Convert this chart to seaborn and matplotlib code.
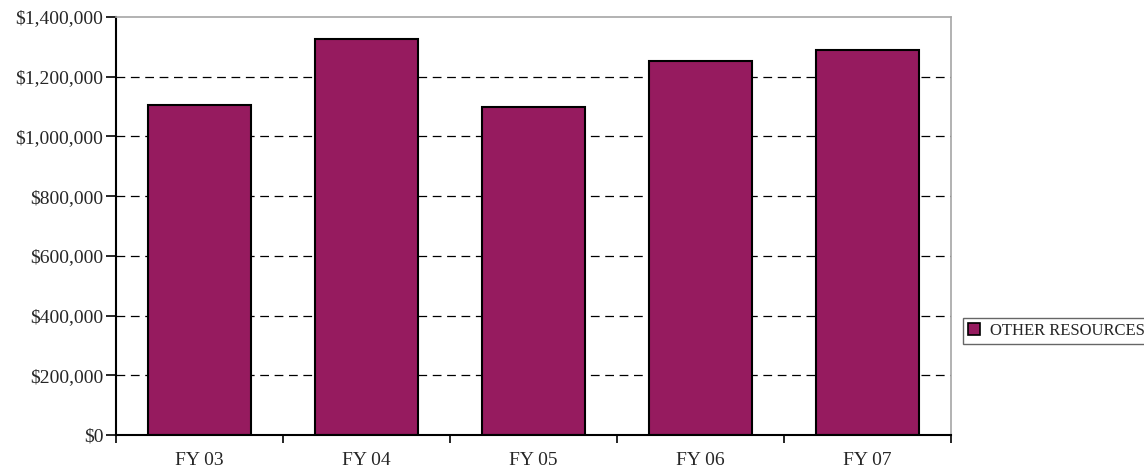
import matplotlib
matplotlib.use("Agg")
import matplotlib.pyplot as plt
import seaborn as sns
from matplotlib.patches import Patch
from matplotlib.ticker import FuncFormatter, MultipleLocator

# data
years = ["FY 03", "FY 04", "FY 05", "FY 06", "FY 07"]
other_resources = [1105000, 1327000, 1100000, 1253000, 1288000]
series_name = "OTHER RESOURCES"

bar_color = "#961B5F"

sns.set_style("white")
plt.rcParams["font.family"] = ["Liberation Serif", "DejaVu Serif"]

fig = plt.figure(figsize=(11.44, 4.69), dpi=100)
ax = fig.add_axes([0.1014, 0.0725, 0.7299, 0.8913])

sns.barplot(x=years, y=other_resources, color=bar_color, width=0.62,
            edgecolor="black", linewidth=1.5, saturation=1, ax=ax)

ax.set_ylim(0, 1400000)
ax.set_xlim(-0.5, len(years) - 0.5)

# y axis
ax.yaxis.set_major_locator(MultipleLocator(200000))
ax.yaxis.set_major_formatter(FuncFormatter(lambda v, p: f"${v:,.0f}"))
ax.tick_params(axis="y", which="major", left=True, length=7, width=1.2,
               direction="out", color="black", labelsize=14, pad=2)

# x axis: labels in the middle, ticks between the categories
ax.set_xticks(range(len(years)))
ax.set_xticklabels(years)
ax.set_xticks([i - 0.5 for i in range(len(years) + 1)], minor=True)
ax.tick_params(axis="x", which="major", length=0, labelsize=14, pad=12)
ax.tick_params(axis="x", which="minor", bottom=True, length=6, width=1.2,
               direction="out", color="black")

# dashed gridlines
for v in range(200000, 1400000, 200000):
    ax.axhline(v, color="black", linestyle=(0, (7, 4.5)), linewidth=0.9, zorder=0)
ax.set_axisbelow(True)

for side in ["left", "bottom"]:
    ax.spines[side].set_color("black")
    ax.spines[side].set_linewidth(1.5)
for side in ["top", "right"]:
    ax.spines[side].set_color("#A6A6A6")
    ax.spines[side].set_linewidth(1.2)

ax.set_xlabel("")
ax.set_ylabel("")

handles = [Patch(facecolor=bar_color, edgecolor="black", linewidth=1.2,
                 label=series_name)]
leg = fig.legend(handles=handles, loc="upper left",
                 bbox_to_anchor=(963 / 1144, 1 - 318 / 469),
                 frameon=True, fancybox=False, fontsize=12,
                 handlelength=0.7, handleheight=0.7, handletextpad=0.6,
                 borderpad=0.3, borderaxespad=0)
leg.get_frame().set_edgecolor("#404040")
leg.get_frame().set_linewidth(1.0)

fig.savefig("out.png", dpi=100)
